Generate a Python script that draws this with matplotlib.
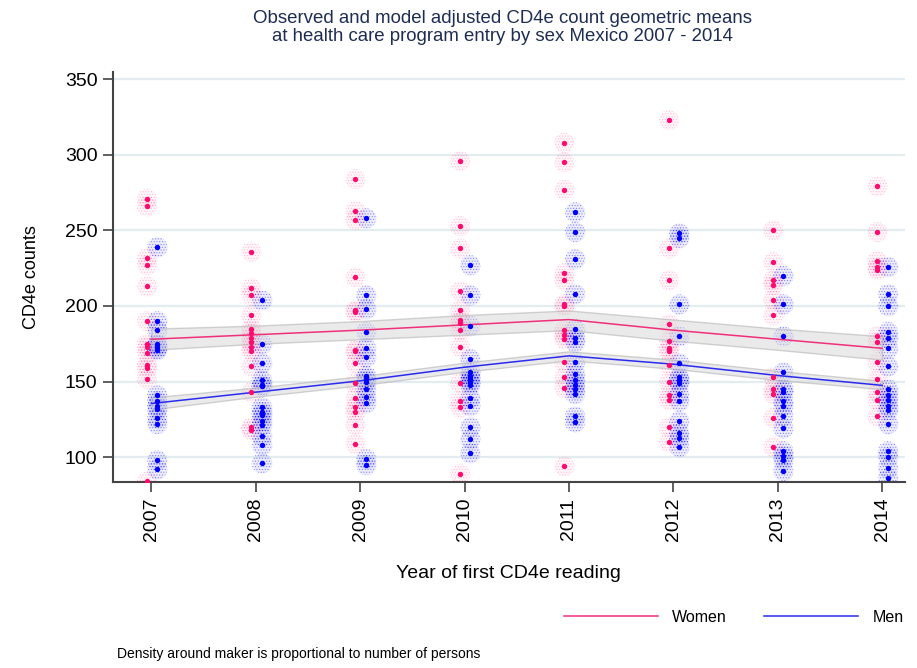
"""Observed vs model-adjusted CD4e geometric means by sex, Mexico 2007-2014."""

import matplotlib

matplotlib.use("Agg")
import matplotlib.pyplot as plt
from matplotlib.lines import Line2D

plt.rcParams["font.family"] = ["Liberation Sans", "DejaVu Sans"]
plt.rcParams["hatch.linewidth"] = 0.5

YEARS = [2007, 2008, 2009, 2010, 2011, 2012, 2013, 2014]

# observed geometric means per health-care unit
WOMEN_OBS = {
    2007: [271, 266, 232, 227, 213, 190, 175, 173, 169, 161, 159, 152, 84],
    2008: [236, 212, 207, 194, 185, 182, 179, 176, 173, 170, 160, 143, 120, 118],
    2009: [284, 263, 257, 219, 197, 196, 171, 170, 162, 149, 139, 133, 130, 121, 109],
    2010: [296, 253, 238, 210, 197, 191, 189, 184, 173, 149, 137, 133, 89],
    2011: [308, 295, 277, 222, 217, 201, 200, 184, 181, 178, 163, 153, 146, 94],
    2012: [323, 238, 217, 188, 177, 172, 170, 161, 150, 141, 138, 120, 110],
    2013: [250, 229, 217, 214, 204, 194, 153, 145, 142, 126, 107],
    2014: [279, 249, 230, 226, 224, 180, 176, 163, 152, 143, 138, 127],
}
MEN_OBS = {
    2007: [239, 190, 184, 175, 174, 172, 171, 141, 137, 134, 132, 126, 122, 98, 92],
    2008: [204, 175, 162, 151, 148, 147, 133, 130, 128, 124, 121, 114, 108, 96],
    2009: [258, 207, 198, 183, 172, 166, 154, 152, 150, 145, 140, 136, 99, 95],
    2010: [227, 207, 187, 165, 156, 154, 152, 150, 148, 139, 134, 120, 112, 103],
    2011: [262, 249, 231, 208, 185, 179, 176, 163, 155, 151, 148, 145, 142, 127, 123],
    2012: [248, 245, 201, 180, 162, 153, 151, 149, 142, 137, 124, 116, 113, 107],
    2013: [220, 201, 180, 156, 145, 143, 137, 134, 127, 119, 104, 101, 98, 91],
    2014: [226, 208, 200, 183, 179, 172, 160, 145, 141, 138, 134, 131, 122, 104, 100, 93, 86],
}

# model adjusted means with confidence band
WOMEN_FIT = [178, 181, 184, 187.5, 191, 184, 178, 172]
WOMEN_LO = [171, 175, 178, 181, 184, 177, 171, 164.5]
WOMEN_HI = [185, 187, 190, 194, 197, 191, 185, 180]
MEN_FIT = [135.5, 143, 150.5, 159.5, 167, 161.5, 154, 147.5]
MEN_LO = [131.5, 140, 147.5, 156.5, 164, 158.5, 151, 145]
MEN_HI = [139.5, 146, 153.5, 162.5, 170, 164.5, 157, 150.5]

PINK = "#ff0a6e"
BLUE = "#0000ff"
TITLE_COL = "#1e2d53"


def main() -> None:
    fig = plt.figure(figsize=(9.17, 6.68), dpi=100)
    ax = fig.add_axes([0.123, 0.278, 0.864, 0.614])

    # speckled halo = faint disc + dotted hatch, then the solid marker
    for obs, col, fill_a, hatch_a, dx in [(WOMEN_OBS, PINK, 0.035, 0.2, -0.045),
                                          (MEN_OBS, BLUE, 0.07, 0.38, 0.055)]:
        for yr in YEARS:
            vals = obs[yr]
            xs = [yr + dx] * len(vals)
            ax.scatter(xs, vals, s=210, color=col, alpha=fill_a,
                       linewidths=0, zorder=2)
            ax.scatter(xs, vals, s=210, facecolors="none", edgecolors=col,
                       hatch="......", linewidths=0, alpha=hatch_a, zorder=2)
            ax.scatter(xs, vals, s=15, color=col, linewidths=0, zorder=5)

    for lo, hi in [(WOMEN_LO, WOMEN_HI), (MEN_LO, MEN_HI)]:
        ax.fill_between(YEARS, lo, hi, facecolor="#d9d9d9", alpha=0.55,
                        edgecolor="#b0b0b0", linewidth=1.0, zorder=3)
    ax.plot(YEARS, WOMEN_FIT, color="#f0307a", lw=1.1, zorder=4)
    ax.plot(YEARS, MEN_FIT, color="#2b2bee", lw=1.1, zorder=4)

    ax.set_xlim(2006.63, 2014.22)
    ax.set_ylim(83.4, 354.6)
    ax.set_xticks(YEARS)
    ax.set_xticklabels([str(y) for y in YEARS], rotation=90, fontsize=14)
    ax.set_yticks([100, 150, 200, 250, 300, 350])
    ax.tick_params(axis="y", labelsize=14)
    ax.tick_params(direction="out", length=7, width=1.2, color="#444444",
                   pad=4)
    ax.grid(axis="y", color="#e3ecee", lw=1.6, zorder=0)
    ax.set_axisbelow(True)
    for side in ("top", "right"):
        ax.spines[side].set_visible(False)
    for side in ("left", "bottom"):
        ax.spines[side].set_color("#444444")
        ax.spines[side].set_linewidth(1.5)

    ax.set_ylabel("CD4e counts", fontsize=13, labelpad=18)
    ax.set_xlabel("Year of first CD4e reading", fontsize=14, labelpad=17)

    fig.text(0.548, 0.985, "Observed and model adjusted CD4e count geometric means\n"
             "at health care program entry by sex Mexico 2007 - 2014",
             ha="center", va="top", fontsize=13.4, color=TITLE_COL,
             linespacing=1.05)

    handles = [Line2D([], [], color="#f0307a", lw=1.1),
               Line2D([], [], color="#2b2bee", lw=1.1)]
    fig.legend(handles, ["Women", "Men"], loc="center",
               bbox_to_anchor=(0.8, 0.076), ncol=2, frameon=False,
               fontsize=11.5, handlelength=5.9, handletextpad=0.9,
               columnspacing=2.3)

    fig.text(0.128, 0.01, "Density around maker is proportional to number of persons",
             fontsize=10, ha="left", va="bottom")

    fig.savefig("out.png", dpi=100, facecolor="white")
    plt.close(fig)


if __name__ == "__main__":
    main()
